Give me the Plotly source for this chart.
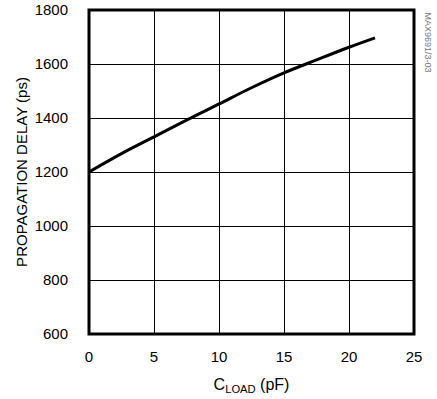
import plotly.graph_objects as go

c_load = [0, 2.5, 5, 7.5, 10, 12.5, 15, 17.5, 20, 22]
delay_ps = [1200, 1268, 1330, 1392, 1452, 1512, 1567, 1615, 1662, 1697]
x_ticks = [0, 5, 10, 15, 20, 25]
y_ticks = [600, 800, 1000, 1200, 1400, 1600, 1800]

FONT = "Liberation Sans, Arial, sans-serif"

fig = go.Figure()
fig.add_trace(go.Scatter(x=c_load, y=delay_ps, mode="lines",
                         line=dict(color="black", width=3), line_shape="spline",
                         hoverinfo="skip", showlegend=False))

fig.update_layout(
    width=437, height=399,
    margin=dict(l=89, r=23, t=10, b=65),
    paper_bgcolor="white", plot_bgcolor="white",
    font=dict(family=FONT, size=15, color="black"),
    xaxis=dict(range=[0, 25], tickvals=x_ticks, showgrid=True, gridcolor="black",
               gridwidth=1, zeroline=False, ticks="outside", ticklen=9,
               tickcolor="rgba(0,0,0,0)", showline=False, automargin=False,
               ticklabeloverflow="allow",
               title=dict(text="C<sub>LOAD</sub> (pF)", standoff=14, font=dict(size=16))),
    yaxis=dict(range=[600, 1800], tickvals=y_ticks, showgrid=True, gridcolor="black",
               gridwidth=1, zeroline=False, ticks="outside", ticklen=17,
               tickcolor="rgba(0,0,0,0)", showline=False, automargin=False,
               ticklabeloverflow="allow",
               title=dict(text="PROPAGATION DELAY (ps)", standoff=3, font=dict(size=15))),
)

fig.add_shape(type="rect", xref="paper", yref="paper", x0=0, x1=1, y0=0, y1=1,
              line=dict(color="black", width=3), layer="above")

fig.add_annotation(text="MAX9691/3-03", xref="paper", yref="paper", x=1.0, y=0.90,
                   xanchor="center", yanchor="middle", xshift=14, textangle=90,
                   showarrow=False, font=dict(size=9, color="#777777", family=FONT))

fig.write_html("out.html", config={"displayModeBar": False},
               post_script="document.body.style.margin='0';document.body.style.overflow='hidden';")
